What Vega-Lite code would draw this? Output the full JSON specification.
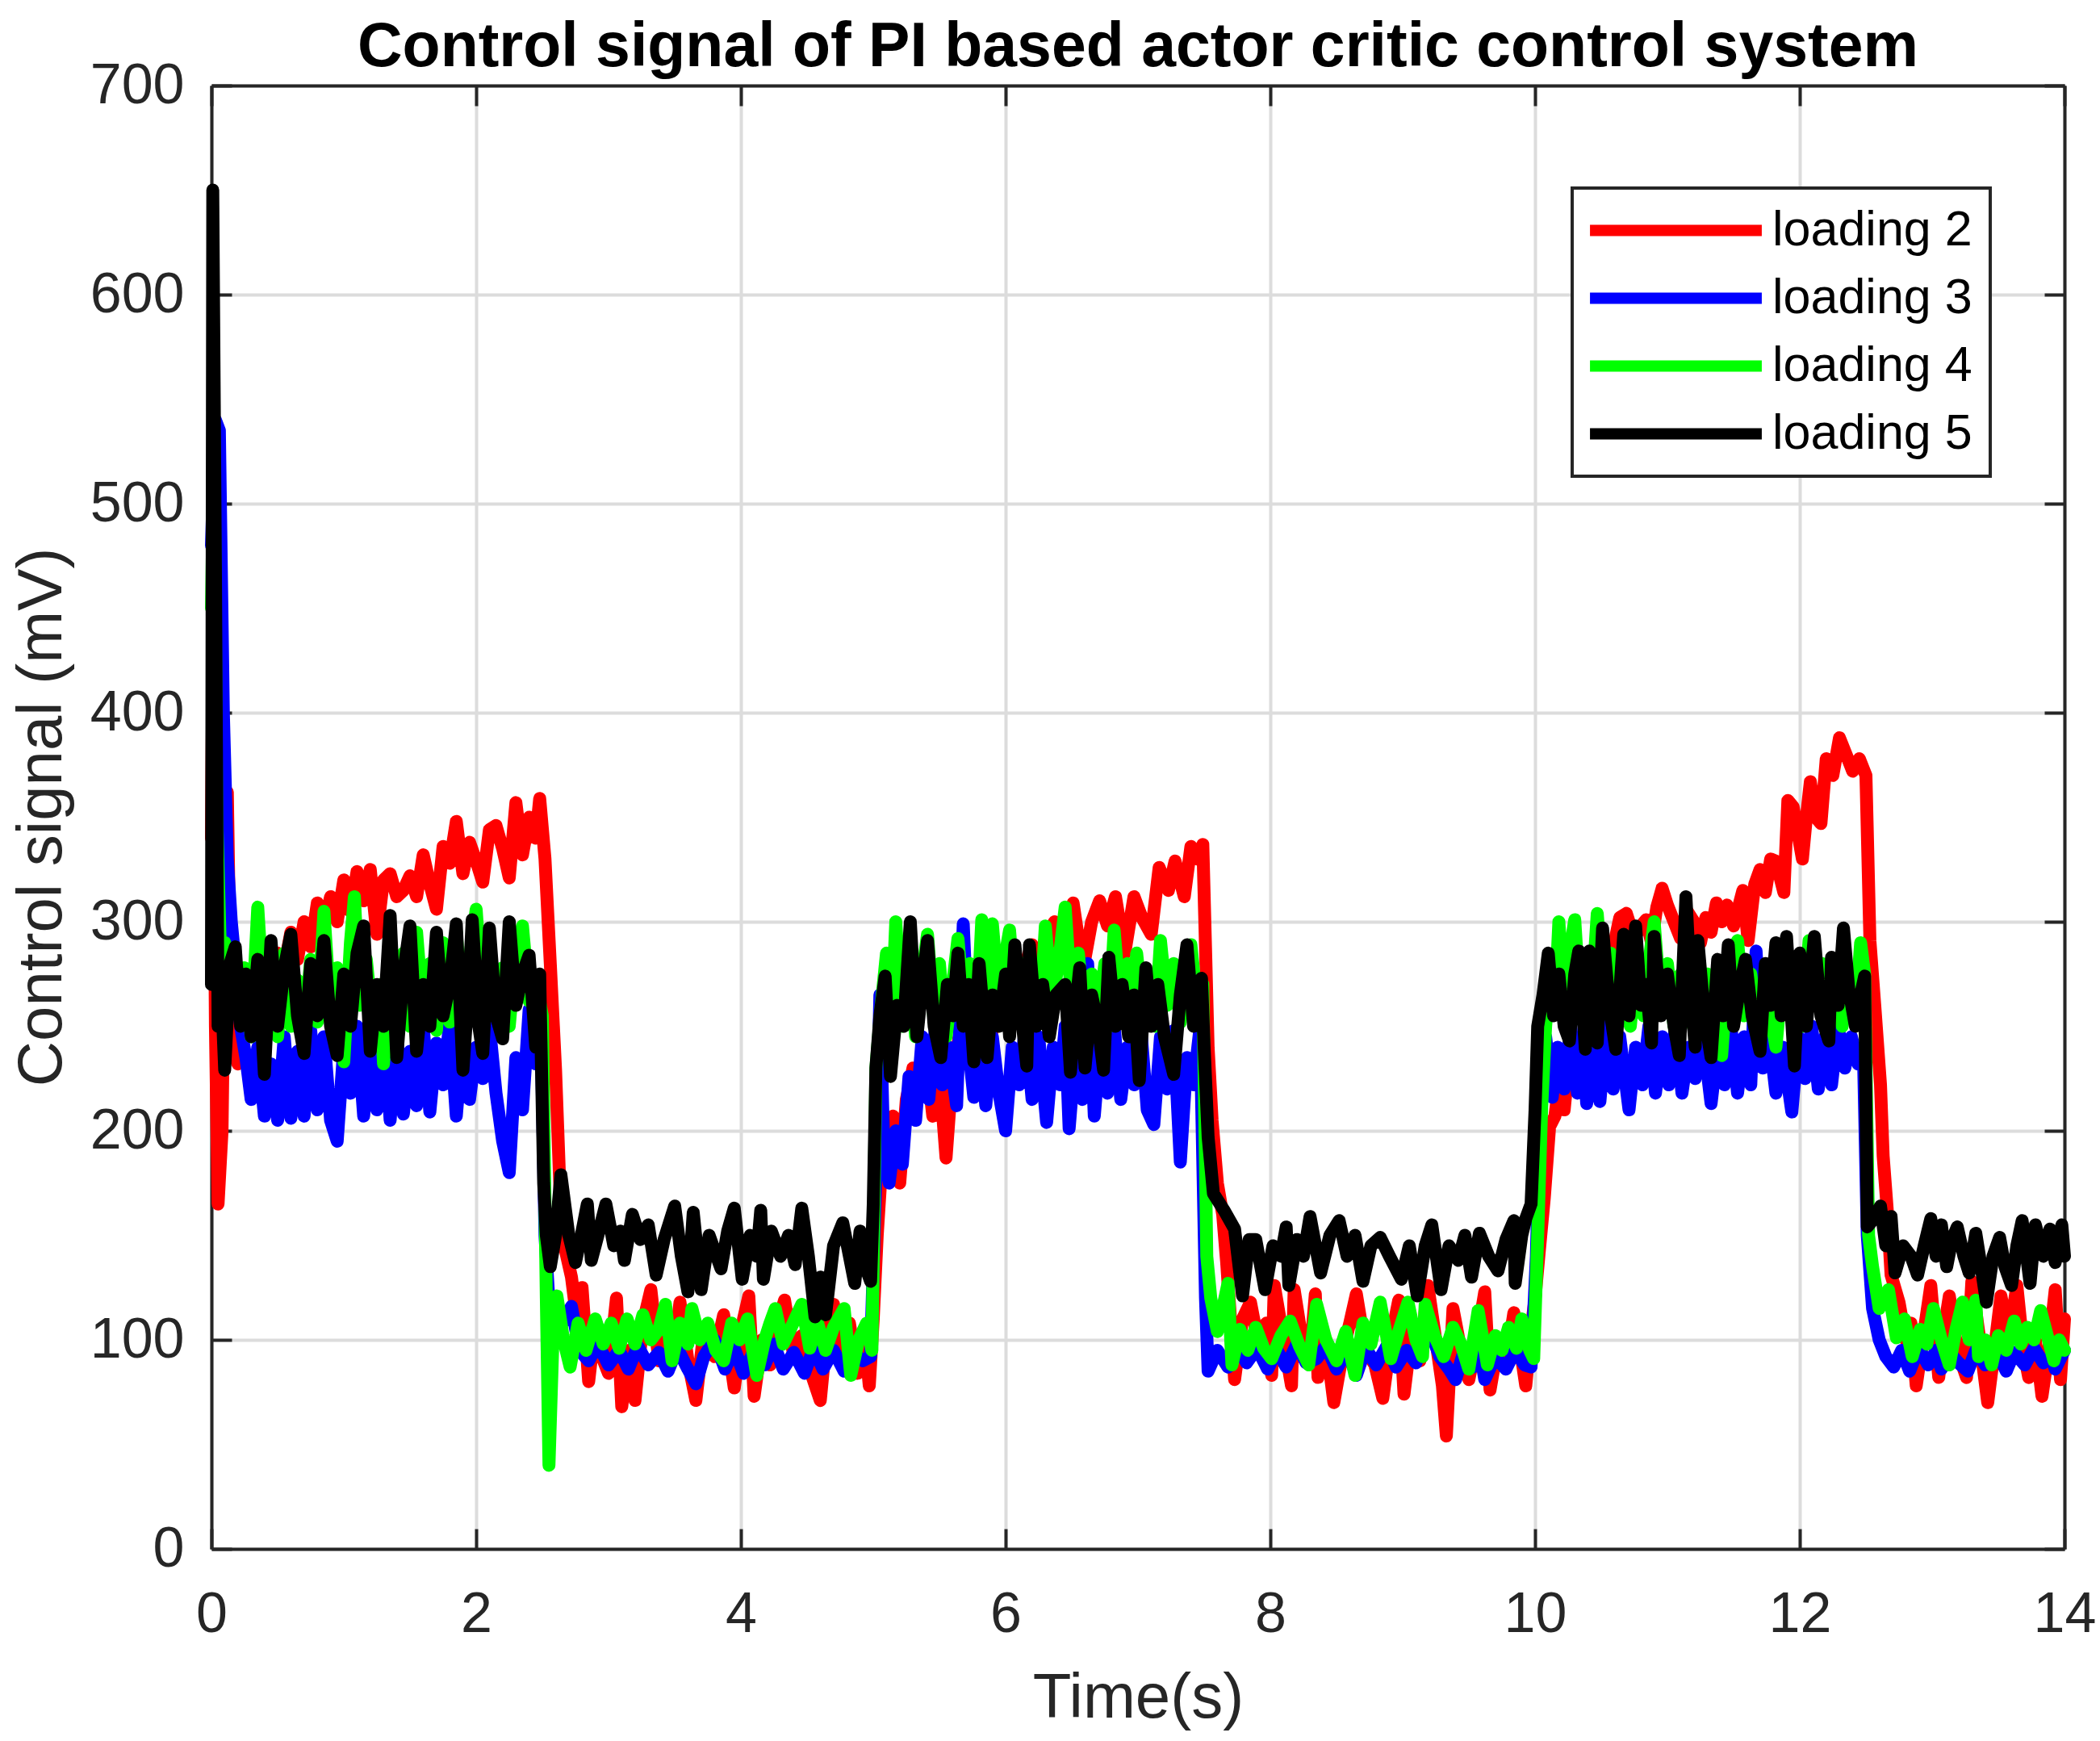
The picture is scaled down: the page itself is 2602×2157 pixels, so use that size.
{
  "$schema": "https://vega.github.io/schema/vega-lite/v6.json",
  "width": 2296,
  "height": 1813,
  "autosize": {"type": "none"},
  "padding": {"left": 262, "top": 106, "right": 44, "bottom": 238},
  "background": "white",
  "title": {
    "text": "Control signal of PI based actor critic control system",
    "font": "Liberation Sans",
    "fontSize": 77,
    "fontWeight": "bold",
    "color": "#000000",
    "anchor": "middle",
    "offset": -27
  },
  "data": {
    "values": [
      {"t":0,"s":2,"v":340},{"t":0.01,"s":2,"v":425},{"t":0.03,"s":2,"v":250},{"t":0.05,"s":2,"v":165},{"t":0.08,"s":2,"v":200},{"t":0.1,"s":2,"v":300},{"t":0.12,"s":2,"v":362},{"t":0.15,"s":2,"v":240},{"t":0.2,"s":2,"v":232},{"t":0.25,"s":2,"v":255},{"t":0.3,"s":2,"v":272},{"t":0.35,"s":2,"v":262},{"t":0.4,"s":2,"v":290},{"t":0.45,"s":2,"v":275},{"t":0.5,"s":2,"v":285},{"t":0.55,"s":2,"v":278},{"t":0.6,"s":2,"v":295},{"t":0.65,"s":2,"v":282},{"t":0.7,"s":2,"v":300},{"t":0.75,"s":2,"v":288},{"t":0.8,"s":2,"v":309},{"t":0.85,"s":2,"v":298},{"t":0.9,"s":2,"v":312},{"t":0.95,"s":2,"v":300},{"t":1.0,"s":2,"v":320},{"t":1.05,"s":2,"v":305},{"t":1.1,"s":2,"v":324},{"t":1.15,"s":2,"v":310},{"t":1.2,"s":2,"v":325},{"t":1.25,"s":2,"v":294},{"t":1.3,"s":2,"v":320},{"t":1.35,"s":2,"v":323},{"t":1.4,"s":2,"v":312},{"t":1.45,"s":2,"v":315},{"t":1.5,"s":2,"v":322},{"t":1.55,"s":2,"v":312},{"t":1.6,"s":2,"v":332},{"t":1.65,"s":2,"v":318},{"t":1.7,"s":2,"v":306},{"t":1.75,"s":2,"v":336},{"t":1.8,"s":2,"v":328},{"t":1.85,"s":2,"v":348},{"t":1.9,"s":2,"v":323},{"t":1.95,"s":2,"v":338},{"t":2.0,"s":2,"v":329},{"t":2.05,"s":2,"v":319},{"t":2.1,"s":2,"v":344},{"t":2.15,"s":2,"v":346},{"t":2.2,"s":2,"v":335},{"t":2.25,"s":2,"v":321},{"t":2.3,"s":2,"v":357},{"t":2.35,"s":2,"v":332},{"t":2.4,"s":2,"v":350},{"t":2.45,"s":2,"v":340},{"t":2.48,"s":2,"v":359},{"t":2.52,"s":2,"v":330},{"t":2.56,"s":2,"v":280},{"t":2.6,"s":2,"v":229},{"t":2.64,"s":2,"v":160},{"t":2.67,"s":2,"v":144},{"t":2.72,"s":2,"v":130},{"t":2.76,"s":2,"v":110},
      {"t":2.8,"s":2,"v":125},{"t":2.85,"s":2,"v":80},{"t":2.9,"s":2,"v":108},{"t":2.95,"s":2,"v":92},{"t":3.0,"s":2,"v":84},{"t":3.06,"s":2,"v":120},{"t":3.1,"s":2,"v":68},{"t":3.15,"s":2,"v":95},{"t":3.2,"s":2,"v":71},{"t":3.26,"s":2,"v":108},{"t":3.32,"s":2,"v":124},{"t":3.38,"s":2,"v":90},{"t":3.44,"s":2,"v":110},{"t":3.5,"s":2,"v":98},{"t":3.54,"s":2,"v":118},{"t":3.6,"s":2,"v":90},{"t":3.66,"s":2,"v":71},{"t":3.72,"s":2,"v":104},{"t":3.8,"s":2,"v":92},{"t":3.87,"s":2,"v":112},{"t":3.95,"s":2,"v":77},{"t":4.02,"s":2,"v":110},{"t":4.06,"s":2,"v":121},{"t":4.1,"s":2,"v":73},{"t":4.16,"s":2,"v":100},{"t":4.22,"s":2,"v":88},{"t":4.28,"s":2,"v":108},{"t":4.33,"s":2,"v":119},{"t":4.4,"s":2,"v":92},{"t":4.46,"s":2,"v":102},{"t":4.52,"s":2,"v":86},{"t":4.6,"s":2,"v":71},{"t":4.65,"s":2,"v":104},{"t":4.7,"s":2,"v":117},{"t":4.76,"s":2,"v":90},{"t":4.82,"s":2,"v":108},{"t":4.88,"s":2,"v":84},{"t":4.93,"s":2,"v":105},{"t":4.97,"s":2,"v":78},{"t":5.0,"s":2,"v":110},
      {"t":5.03,"s":2,"v":150},{"t":5.07,"s":2,"v":190},{"t":5.1,"s":2,"v":205},{"t":5.15,"s":2,"v":207},{"t":5.2,"s":2,"v":175},{"t":5.25,"s":2,"v":215},{"t":5.3,"s":2,"v":230},{"t":5.35,"s":2,"v":218},{"t":5.4,"s":2,"v":235},{"t":5.45,"s":2,"v":207},{"t":5.5,"s":2,"v":228},{"t":5.55,"s":2,"v":187},{"t":5.6,"s":2,"v":230},{"t":5.65,"s":2,"v":245},{"t":5.7,"s":2,"v":232},{"t":5.75,"s":2,"v":250},{"t":5.8,"s":2,"v":240},{"t":5.85,"s":2,"v":258},{"t":5.9,"s":2,"v":248},{"t":5.95,"s":2,"v":262},{"t":6.0,"s":2,"v":252},{"t":6.05,"s":2,"v":270},{"t":6.1,"s":2,"v":262},{"t":6.15,"s":2,"v":280},{"t":6.2,"s":2,"v":289},{"t":6.25,"s":2,"v":278},{"t":6.3,"s":2,"v":292},{"t":6.37,"s":2,"v":300},{"t":6.42,"s":2,"v":285},{"t":6.47,"s":2,"v":298},{"t":6.51,"s":2,"v":309},{"t":6.55,"s":2,"v":292},{"t":6.59,"s":2,"v":279},{"t":6.65,"s":2,"v":300},{"t":6.71,"s":2,"v":310},{"t":6.77,"s":2,"v":298},{"t":6.83,"s":2,"v":312},{"t":6.9,"s":2,"v":285},{"t":6.97,"s":2,"v":312},{"t":7.03,"s":2,"v":302},{"t":7.1,"s":2,"v":294},{"t":7.16,"s":2,"v":326},{"t":7.23,"s":2,"v":315},{"t":7.28,"s":2,"v":329},{"t":7.35,"s":2,"v":312},{"t":7.4,"s":2,"v":336},{"t":7.45,"s":2,"v":330},{"t":7.49,"s":2,"v":337},{"t":7.53,"s":2,"v":240},{"t":7.56,"s":2,"v":205},{"t":7.6,"s":2,"v":175},{"t":7.64,"s":2,"v":160},{"t":7.67,"s":2,"v":137},
      {"t":7.73,"s":2,"v":81},{"t":7.79,"s":2,"v":110},{"t":7.85,"s":2,"v":118},{"t":7.92,"s":2,"v":95},{"t":7.97,"s":2,"v":108},{"t":8.01,"s":2,"v":83},{"t":8.03,"s":2,"v":126},{"t":8.1,"s":2,"v":100},{"t":8.16,"s":2,"v":78},{"t":8.18,"s":2,"v":124},{"t":8.24,"s":2,"v":100},{"t":8.3,"s":2,"v":92},{"t":8.34,"s":2,"v":122},{"t":8.36,"s":2,"v":82},{"t":8.42,"s":2,"v":100},{"t":8.48,"s":2,"v":70},{"t":8.55,"s":2,"v":95},{"t":8.6,"s":2,"v":108},{"t":8.65,"s":2,"v":122},{"t":8.72,"s":2,"v":95},{"t":8.79,"s":2,"v":88},{"t":8.85,"s":2,"v":72},{"t":8.91,"s":2,"v":100},{"t":8.97,"s":2,"v":119},{"t":9.01,"s":2,"v":74},{"t":9.07,"s":2,"v":105},{"t":9.13,"s":2,"v":90},{"t":9.19,"s":2,"v":126},{"t":9.25,"s":2,"v":100},{"t":9.3,"s":2,"v":78},{"t":9.33,"s":2,"v":54},{"t":9.38,"s":2,"v":115},{"t":9.44,"s":2,"v":95},{"t":9.5,"s":2,"v":81},{"t":9.56,"s":2,"v":100},{"t":9.62,"s":2,"v":123},{"t":9.66,"s":2,"v":76},{"t":9.72,"s":2,"v":98},{"t":9.78,"s":2,"v":88},{"t":9.84,"s":2,"v":113},{"t":9.89,"s":2,"v":95},{"t":9.93,"s":2,"v":78},{"t":9.97,"s":2,"v":105},
      {"t":10.0,"s":2,"v":120},{"t":10.03,"s":2,"v":141},{"t":10.07,"s":2,"v":168},{"t":10.11,"s":2,"v":202},{"t":10.15,"s":2,"v":207},{"t":10.18,"s":2,"v":222},{"t":10.22,"s":2,"v":210},{"t":10.26,"s":2,"v":236},{"t":10.3,"s":2,"v":222},{"t":10.35,"s":2,"v":240},{"t":10.4,"s":2,"v":248},{"t":10.45,"s":2,"v":262},{"t":10.5,"s":2,"v":270},{"t":10.55,"s":2,"v":282},{"t":10.6,"s":2,"v":290},{"t":10.64,"s":2,"v":302},{"t":10.69,"s":2,"v":304},{"t":10.75,"s":2,"v":292},{"t":10.8,"s":2,"v":298},{"t":10.84,"s":2,"v":301},{"t":10.88,"s":2,"v":290},{"t":10.92,"s":2,"v":307},{"t":10.96,"s":2,"v":316},{"t":11.0,"s":2,"v":308},{"t":11.05,"s":2,"v":300},{"t":11.1,"s":2,"v":292},{"t":11.15,"s":2,"v":305},{"t":11.2,"s":2,"v":300},{"t":11.25,"s":2,"v":290},{"t":11.29,"s":2,"v":302},{"t":11.33,"s":2,"v":295},{"t":11.37,"s":2,"v":309},{"t":11.41,"s":2,"v":300},{"t":11.45,"s":2,"v":308},{"t":11.5,"s":2,"v":298},{"t":11.57,"s":2,"v":315},{"t":11.61,"s":2,"v":291},{"t":11.66,"s":2,"v":318},{"t":11.7,"s":2,"v":325},{"t":11.74,"s":2,"v":314},{"t":11.78,"s":2,"v":330},{"t":11.82,"s":2,"v":329},{"t":11.88,"s":2,"v":314},{"t":11.91,"s":2,"v":358},{"t":11.95,"s":2,"v":355},{"t":12.02,"s":2,"v":330},{"t":12.05,"s":2,"v":350},{"t":12.08,"s":2,"v":367},{"t":12.12,"s":2,"v":350},{"t":12.16,"s":2,"v":347},{"t":12.2,"s":2,"v":378},{"t":12.25,"s":2,"v":370},{"t":12.3,"s":2,"v":388},{"t":12.35,"s":2,"v":380},{"t":12.4,"s":2,"v":372},{"t":12.45,"s":2,"v":378},{"t":12.5,"s":2,"v":370},{"t":12.53,"s":2,"v":291},{"t":12.57,"s":2,"v":257},{"t":12.61,"s":2,"v":222},{"t":12.63,"s":2,"v":188},{"t":12.66,"s":2,"v":163},{"t":12.69,"s":2,"v":131},
      {"t":12.75,"s":2,"v":118},{"t":12.8,"s":2,"v":100},{"t":12.84,"s":2,"v":108},{"t":12.88,"s":2,"v":78},{"t":12.93,"s":2,"v":100},{"t":12.99,"s":2,"v":126},{"t":13.05,"s":2,"v":82},{"t":13.09,"s":2,"v":105},{"t":13.13,"s":2,"v":121},{"t":13.19,"s":2,"v":95},{"t":13.26,"s":2,"v":82},{"t":13.3,"s":2,"v":128},{"t":13.36,"s":2,"v":100},{"t":13.42,"s":2,"v":70},{"t":13.47,"s":2,"v":95},{"t":13.52,"s":2,"v":121},{"t":13.58,"s":2,"v":100},{"t":13.64,"s":2,"v":126},{"t":13.69,"s":2,"v":95},{"t":13.73,"s":2,"v":82},{"t":13.78,"s":2,"v":100},{"t":13.83,"s":2,"v":73},{"t":13.88,"s":2,"v":95},{"t":13.93,"s":2,"v":124},{"t":13.97,"s":2,"v":81},{"t":14.0,"s":2,"v":110},

      {"t":0,"s":3,"v":480},{"t":0.03,"s":3,"v":540},{"t":0.06,"s":3,"v":535},{"t":0.09,"s":3,"v":400},{"t":0.12,"s":3,"v":330},{"t":0.15,"s":3,"v":300},{"t":0.18,"s":3,"v":280},{"t":0.22,"s":3,"v":250},{"t":0.26,"s":3,"v":235},{"t":0.3,"s":3,"v":215},{"t":0.35,"s":3,"v":240},{"t":0.4,"s":3,"v":207},{"t":0.45,"s":3,"v":232},{"t":0.5,"s":3,"v":205},{"t":0.55,"s":3,"v":245},{"t":0.6,"s":3,"v":206},{"t":0.65,"s":3,"v":238},{"t":0.7,"s":3,"v":207},{"t":0.75,"s":3,"v":248},{"t":0.8,"s":3,"v":210},{"t":0.85,"s":3,"v":245},{"t":0.9,"s":3,"v":205},{"t":0.95,"s":3,"v":195},{"t":1.0,"s":3,"v":240},{"t":1.05,"s":3,"v":218},{"t":1.1,"s":3,"v":250},{"t":1.15,"s":3,"v":207},{"t":1.2,"s":3,"v":242},{"t":1.25,"s":3,"v":210},{"t":1.3,"s":3,"v":250},{"t":1.35,"s":3,"v":205},{"t":1.4,"s":3,"v":245},{"t":1.45,"s":3,"v":208},{"t":1.5,"s":3,"v":238},{"t":1.55,"s":3,"v":212},{"t":1.6,"s":3,"v":250},{"t":1.65,"s":3,"v":209},{"t":1.7,"s":3,"v":242},{"t":1.75,"s":3,"v":222},{"t":1.8,"s":3,"v":252},{"t":1.85,"s":3,"v":207},{"t":1.9,"s":3,"v":245},{"t":1.95,"s":3,"v":215},{"t":2.0,"s":3,"v":240},{"t":2.05,"s":3,"v":225},{"t":2.1,"s":3,"v":250},{"t":2.15,"s":3,"v":218},{"t":2.2,"s":3,"v":195},{"t":2.25,"s":3,"v":180},{"t":2.3,"s":3,"v":235},{"t":2.35,"s":3,"v":210},{"t":2.4,"s":3,"v":258},{"t":2.45,"s":3,"v":232},{"t":2.49,"s":3,"v":250},{"t":2.52,"s":3,"v":150},{"t":2.55,"s":3,"v":118},{"t":2.58,"s":3,"v":100},{"t":2.65,"s":3,"v":108},{"t":2.72,"s":3,"v":116},{"t":2.78,"s":3,"v":95},{"t":2.85,"s":3,"v":90},
      {"t":2.92,"s":3,"v":98},{"t":3.0,"s":3,"v":88},{"t":3.08,"s":3,"v":95},{"t":3.15,"s":3,"v":86},{"t":3.22,"s":3,"v":97},{"t":3.3,"s":3,"v":88},{"t":3.38,"s":3,"v":94},{"t":3.45,"s":3,"v":85},{"t":3.52,"s":3,"v":96},{"t":3.6,"s":3,"v":86},{"t":3.66,"s":3,"v":79},{"t":3.72,"s":3,"v":92},{"t":3.8,"s":3,"v":100},{"t":3.88,"s":3,"v":86},{"t":3.95,"s":3,"v":96},{"t":4.02,"s":3,"v":84},{"t":4.1,"s":3,"v":95},{"t":4.18,"s":3,"v":88},{"t":4.25,"s":3,"v":98},{"t":4.32,"s":3,"v":86},{"t":4.4,"s":3,"v":94},{"t":4.48,"s":3,"v":84},{"t":4.55,"s":3,"v":96},{"t":4.62,"s":3,"v":86},{"t":4.7,"s":3,"v":95},{"t":4.78,"s":3,"v":85},{"t":4.85,"s":3,"v":94},{"t":4.92,"s":3,"v":90},{"t":4.98,"s":3,"v":92},
      {"t":5.02,"s":3,"v":180},{"t":5.05,"s":3,"v":265},{"t":5.08,"s":3,"v":190},{"t":5.12,"s":3,"v":175},{"t":5.17,"s":3,"v":200},{"t":5.22,"s":3,"v":184},{"t":5.27,"s":3,"v":226},{"t":5.32,"s":3,"v":205},{"t":5.37,"s":3,"v":245},{"t":5.42,"s":3,"v":215},{"t":5.47,"s":3,"v":250},{"t":5.52,"s":3,"v":222},{"t":5.57,"s":3,"v":240},{"t":5.63,"s":3,"v":212},{"t":5.68,"s":3,"v":299},{"t":5.72,"s":3,"v":240},{"t":5.76,"s":3,"v":216},{"t":5.8,"s":3,"v":250},{"t":5.85,"s":3,"v":212},{"t":5.9,"s":3,"v":245},{"t":5.95,"s":3,"v":218},{"t":6.0,"s":3,"v":200},{"t":6.05,"s":3,"v":240},{"t":6.1,"s":3,"v":222},{"t":6.15,"s":3,"v":250},{"t":6.2,"s":3,"v":215},{"t":6.25,"s":3,"v":245},{"t":6.31,"s":3,"v":204},{"t":6.36,"s":3,"v":240},{"t":6.41,"s":3,"v":222},{"t":6.45,"s":3,"v":250},{"t":6.48,"s":3,"v":201},{"t":6.53,"s":3,"v":240},{"t":6.58,"s":3,"v":215},{"t":6.62,"s":3,"v":280},{"t":6.67,"s":3,"v":207},{"t":6.72,"s":3,"v":245},{"t":6.77,"s":3,"v":218},{"t":6.82,"s":3,"v":250},{"t":6.87,"s":3,"v":215},{"t":6.92,"s":3,"v":240},{"t":6.97,"s":3,"v":222},{"t":7.02,"s":3,"v":250},{"t":7.07,"s":3,"v":210},{"t":7.12,"s":3,"v":203},{"t":7.17,"s":3,"v":245},{"t":7.22,"s":3,"v":220},{"t":7.27,"s":3,"v":248},{"t":7.32,"s":3,"v":185},{"t":7.37,"s":3,"v":235},{"t":7.42,"s":3,"v":222},{"t":7.47,"s":3,"v":250},{"t":7.51,"s":3,"v":120},{"t":7.53,"s":3,"v":85},
      {"t":7.6,"s":3,"v":95},{"t":7.68,"s":3,"v":87},{"t":7.75,"s":3,"v":98},{"t":7.82,"s":3,"v":89},{"t":7.9,"s":3,"v":96},{"t":7.98,"s":3,"v":86},{"t":8.05,"s":3,"v":95},{"t":8.12,"s":3,"v":87},{"t":8.2,"s":3,"v":98},{"t":8.27,"s":3,"v":89},{"t":8.35,"s":3,"v":91},{"t":8.42,"s":3,"v":97},{"t":8.5,"s":3,"v":86},{"t":8.58,"s":3,"v":95},{"t":8.65,"s":3,"v":83},{"t":8.72,"s":3,"v":96},{"t":8.8,"s":3,"v":88},{"t":8.88,"s":3,"v":97},{"t":8.95,"s":3,"v":87},{"t":9.03,"s":3,"v":95},{"t":9.1,"s":3,"v":89},{"t":9.15,"s":3,"v":97},{"t":9.21,"s":3,"v":104},{"t":9.28,"s":3,"v":92},{"t":9.35,"s":3,"v":86},{"t":9.4,"s":3,"v":81},{"t":9.46,"s":3,"v":94},{"t":9.53,"s":3,"v":87},{"t":9.58,"s":3,"v":96},{"t":9.62,"s":3,"v":81},{"t":9.7,"s":3,"v":92},{"t":9.78,"s":3,"v":86},{"t":9.85,"s":3,"v":95},{"t":9.92,"s":3,"v":88},{"t":9.97,"s":3,"v":87},
      {"t":10.01,"s":3,"v":140},{"t":10.04,"s":3,"v":216},{"t":10.08,"s":3,"v":245},{"t":10.13,"s":3,"v":216},{"t":10.17,"s":3,"v":240},{"t":10.22,"s":3,"v":220},{"t":10.27,"s":3,"v":250},{"t":10.32,"s":3,"v":218},{"t":10.36,"s":3,"v":245},{"t":10.39,"s":3,"v":213},{"t":10.44,"s":3,"v":240},{"t":10.49,"s":3,"v":214},{"t":10.54,"s":3,"v":250},{"t":10.59,"s":3,"v":220},{"t":10.64,"s":3,"v":245},{"t":10.71,"s":3,"v":210},{"t":10.76,"s":3,"v":240},{"t":10.81,"s":3,"v":222},{"t":10.86,"s":3,"v":250},{"t":10.91,"s":3,"v":218},{"t":10.96,"s":3,"v":245},{"t":11.01,"s":3,"v":222},{"t":11.06,"s":3,"v":250},{"t":11.11,"s":3,"v":218},{"t":11.16,"s":3,"v":240},{"t":11.21,"s":3,"v":225},{"t":11.26,"s":3,"v":250},{"t":11.33,"s":3,"v":213},{"t":11.38,"s":3,"v":240},{"t":11.43,"s":3,"v":222},{"t":11.48,"s":3,"v":250},{"t":11.53,"s":3,"v":218},{"t":11.58,"s":3,"v":245},{"t":11.63,"s":3,"v":222},{"t":11.67,"s":3,"v":286},{"t":11.72,"s":3,"v":230},{"t":11.77,"s":3,"v":245},{"t":11.82,"s":3,"v":218},{"t":11.87,"s":3,"v":240},{"t":11.94,"s":3,"v":209},{"t":11.99,"s":3,"v":245},{"t":12.04,"s":3,"v":225},{"t":12.09,"s":3,"v":250},{"t":12.14,"s":3,"v":220},{"t":12.19,"s":3,"v":245},{"t":12.24,"s":3,"v":222},{"t":12.29,"s":3,"v":250},{"t":12.34,"s":3,"v":230},{"t":12.39,"s":3,"v":245},{"t":12.44,"s":3,"v":232},{"t":12.48,"s":3,"v":240},{"t":12.51,"s":3,"v":150},{"t":12.55,"s":3,"v":115},{"t":12.6,"s":3,"v":100},
      {"t":12.65,"s":3,"v":92},{"t":12.71,"s":3,"v":87},{"t":12.77,"s":3,"v":95},{"t":12.83,"s":3,"v":85},{"t":12.9,"s":3,"v":96},{"t":12.97,"s":3,"v":88},{"t":13.03,"s":3,"v":95},{"t":13.07,"s":3,"v":86},{"t":13.13,"s":3,"v":94},{"t":13.2,"s":3,"v":89},{"t":13.27,"s":3,"v":85},{"t":13.33,"s":3,"v":95},{"t":13.4,"s":3,"v":88},{"t":13.47,"s":3,"v":96},{"t":13.53,"s":3,"v":89},{"t":13.56,"s":3,"v":85},{"t":13.62,"s":3,"v":94},{"t":13.7,"s":3,"v":88},{"t":13.77,"s":3,"v":96},{"t":13.84,"s":3,"v":89},{"t":13.9,"s":3,"v":92},{"t":13.93,"s":3,"v":86},{"t":14.0,"s":3,"v":95},

      {"t":0,"s":4,"v":450},{"t":0.02,"s":4,"v":530},{"t":0.04,"s":4,"v":350},{"t":0.07,"s":4,"v":280},{"t":0.1,"s":4,"v":290},{"t":0.13,"s":4,"v":272},{"t":0.17,"s":4,"v":285},{"t":0.2,"s":4,"v":262},{"t":0.25,"s":4,"v":278},{"t":0.3,"s":4,"v":245},{"t":0.35,"s":4,"v":307},{"t":0.4,"s":4,"v":255},{"t":0.45,"s":4,"v":280},{"t":0.5,"s":4,"v":245},{"t":0.55,"s":4,"v":285},{"t":0.6,"s":4,"v":250},{"t":0.65,"s":4,"v":272},{"t":0.7,"s":4,"v":248},{"t":0.75,"s":4,"v":282},{"t":0.8,"s":4,"v":252},{"t":0.85,"s":4,"v":305},{"t":0.9,"s":4,"v":255},{"t":0.95,"s":4,"v":278},{"t":1.0,"s":4,"v":233},{"t":1.05,"s":4,"v":290},{"t":1.08,"s":4,"v":312},{"t":1.12,"s":4,"v":260},{"t":1.17,"s":4,"v":282},{"t":1.22,"s":4,"v":250},{"t":1.27,"s":4,"v":270},{"t":1.3,"s":4,"v":232},{"t":1.35,"s":4,"v":278},{"t":1.4,"s":4,"v":255},{"t":1.45,"s":4,"v":285},{"t":1.5,"s":4,"v":250},{"t":1.55,"s":4,"v":295},{"t":1.6,"s":4,"v":255},{"t":1.65,"s":4,"v":280},{"t":1.7,"s":4,"v":248},{"t":1.75,"s":4,"v":290},{"t":1.8,"s":4,"v":252},{"t":1.85,"s":4,"v":295},{"t":1.9,"s":4,"v":250},{"t":1.95,"s":4,"v":282},{"t":2.0,"s":4,"v":306},{"t":2.05,"s":4,"v":260},{"t":2.1,"s":4,"v":285},{"t":2.15,"s":4,"v":255},{"t":2.2,"s":4,"v":278},{"t":2.25,"s":4,"v":250},{"t":2.3,"s":4,"v":285},{"t":2.35,"s":4,"v":298},{"t":2.4,"s":4,"v":262},{"t":2.45,"s":4,"v":272},{"t":2.5,"s":4,"v":255},{"t":2.53,"s":4,"v":120},{"t":2.55,"s":4,"v":40},{"t":2.58,"s":4,"v":100},{"t":2.61,"s":4,"v":121},{"t":2.66,"s":4,"v":100},{"t":2.71,"s":4,"v":87},
      {"t":2.77,"s":4,"v":108},{"t":2.83,"s":4,"v":95},{"t":2.9,"s":4,"v":110},{"t":2.96,"s":4,"v":98},{"t":3.02,"s":4,"v":108},{"t":3.08,"s":4,"v":96},{"t":3.14,"s":4,"v":110},{"t":3.2,"s":4,"v":98},{"t":3.26,"s":4,"v":112},{"t":3.32,"s":4,"v":100},{"t":3.38,"s":4,"v":105},{"t":3.43,"s":4,"v":117},{"t":3.48,"s":4,"v":90},{"t":3.54,"s":4,"v":108},{"t":3.6,"s":4,"v":98},{"t":3.63,"s":4,"v":115},{"t":3.69,"s":4,"v":100},{"t":3.75,"s":4,"v":108},{"t":3.81,"s":4,"v":95},{"t":3.87,"s":4,"v":90},{"t":3.93,"s":4,"v":108},{"t":3.99,"s":4,"v":100},{"t":4.05,"s":4,"v":110},{"t":4.12,"s":4,"v":83},{"t":4.18,"s":4,"v":100},{"t":4.22,"s":4,"v":108},{"t":4.26,"s":4,"v":115},{"t":4.32,"s":4,"v":98},{"t":4.38,"s":4,"v":106},{"t":4.46,"s":4,"v":117},{"t":4.52,"s":4,"v":96},{"t":4.58,"s":4,"v":108},{"t":4.64,"s":4,"v":95},{"t":4.7,"s":4,"v":106},{"t":4.78,"s":4,"v":115},{"t":4.83,"s":4,"v":83},{"t":4.89,"s":4,"v":100},{"t":4.95,"s":4,"v":108},{"t":4.99,"s":4,"v":95},
      {"t":5.02,"s":4,"v":230},{"t":5.06,"s":4,"v":260},{"t":5.1,"s":4,"v":285},{"t":5.14,"s":4,"v":255},{"t":5.17,"s":4,"v":300},{"t":5.22,"s":4,"v":250},{"t":5.27,"s":4,"v":285},{"t":5.32,"s":4,"v":245},{"t":5.37,"s":4,"v":275},{"t":5.41,"s":4,"v":294},{"t":5.46,"s":4,"v":252},{"t":5.5,"s":4,"v":280},{"t":5.55,"s":4,"v":245},{"t":5.6,"s":4,"v":270},{"t":5.64,"s":4,"v":292},{"t":5.69,"s":4,"v":255},{"t":5.73,"s":4,"v":280},{"t":5.78,"s":4,"v":248},{"t":5.82,"s":4,"v":301},{"t":5.86,"s":4,"v":260},{"t":5.9,"s":4,"v":299},{"t":5.95,"s":4,"v":262},{"t":6.0,"s":4,"v":285},{"t":6.03,"s":4,"v":296},{"t":6.08,"s":4,"v":255},{"t":6.13,"s":4,"v":280},{"t":6.18,"s":4,"v":250},{"t":6.22,"s":4,"v":275},{"t":6.26,"s":4,"v":255},{"t":6.3,"s":4,"v":298},{"t":6.35,"s":4,"v":262},{"t":6.4,"s":4,"v":280},{"t":6.45,"s":4,"v":307},{"t":6.5,"s":4,"v":260},{"t":6.55,"s":4,"v":285},{"t":6.6,"s":4,"v":250},{"t":6.65,"s":4,"v":275},{"t":6.7,"s":4,"v":255},{"t":6.75,"s":4,"v":280},{"t":6.78,"s":4,"v":250},{"t":6.82,"s":4,"v":296},{"t":6.87,"s":4,"v":258},{"t":6.92,"s":4,"v":280},{"t":6.96,"s":4,"v":248},{"t":6.99,"s":4,"v":285},{"t":7.04,"s":4,"v":255},{"t":7.09,"s":4,"v":275},{"t":7.13,"s":4,"v":250},{"t":7.17,"s":4,"v":291},{"t":7.22,"s":4,"v":260},{"t":7.27,"s":4,"v":280},{"t":7.32,"s":4,"v":252},{"t":7.36,"s":4,"v":275},{"t":7.4,"s":4,"v":289},{"t":7.45,"s":4,"v":258},{"t":7.49,"s":4,"v":270},{"t":7.52,"s":4,"v":140},{"t":7.55,"s":4,"v":120},{"t":7.6,"s":4,"v":104},{"t":7.64,"s":4,"v":115},{"t":7.68,"s":4,"v":127},{"t":7.71,"s":4,"v":88},
      {"t":7.77,"s":4,"v":105},{"t":7.83,"s":4,"v":95},{"t":7.89,"s":4,"v":106},{"t":7.95,"s":4,"v":96},{"t":8.01,"s":4,"v":91},{"t":8.08,"s":4,"v":102},{"t":8.15,"s":4,"v":109},{"t":8.22,"s":4,"v":97},{"t":8.29,"s":4,"v":88},{"t":8.35,"s":4,"v":117},{"t":8.42,"s":4,"v":100},{"t":8.5,"s":4,"v":90},{"t":8.57,"s":4,"v":104},{"t":8.64,"s":4,"v":83},{"t":8.7,"s":4,"v":108},{"t":8.76,"s":4,"v":98},{"t":8.83,"s":4,"v":118},{"t":8.91,"s":4,"v":91},{"t":8.97,"s":4,"v":104},{"t":9.04,"s":4,"v":118},{"t":9.1,"s":4,"v":100},{"t":9.15,"s":4,"v":92},{"t":9.17,"s":4,"v":117},{"t":9.24,"s":4,"v":102},{"t":9.31,"s":4,"v":92},{"t":9.38,"s":4,"v":106},{"t":9.44,"s":4,"v":98},{"t":9.5,"s":4,"v":86},{"t":9.57,"s":4,"v":114},{"t":9.64,"s":4,"v":88},{"t":9.7,"s":4,"v":102},{"t":9.75,"s":4,"v":95},{"t":9.8,"s":4,"v":106},{"t":9.86,"s":4,"v":96},{"t":9.9,"s":4,"v":110},{"t":9.96,"s":4,"v":95},{"t":9.99,"s":4,"v":91},
      {"t":10.02,"s":4,"v":150},{"t":10.05,"s":4,"v":211},{"t":10.08,"s":4,"v":250},{"t":10.12,"s":4,"v":280},{"t":10.15,"s":4,"v":260},{"t":10.18,"s":4,"v":300},{"t":10.22,"s":4,"v":262},{"t":10.26,"s":4,"v":285},{"t":10.3,"s":4,"v":301},{"t":10.34,"s":4,"v":260},{"t":10.38,"s":4,"v":280},{"t":10.42,"s":4,"v":255},{"t":10.47,"s":4,"v":304},{"t":10.52,"s":4,"v":262},{"t":10.57,"s":4,"v":285},{"t":10.62,"s":4,"v":255},{"t":10.67,"s":4,"v":275},{"t":10.72,"s":4,"v":250},{"t":10.77,"s":4,"v":285},{"t":10.82,"s":4,"v":255},{"t":10.86,"s":4,"v":280},{"t":10.9,"s":4,"v":300},{"t":10.95,"s":4,"v":258},{"t":11.0,"s":4,"v":280},{"t":11.05,"s":4,"v":250},{"t":11.1,"s":4,"v":275},{"t":11.15,"s":4,"v":252},{"t":11.2,"s":4,"v":285},{"t":11.25,"s":4,"v":255},{"t":11.3,"s":4,"v":275},{"t":11.35,"s":4,"v":248},{"t":11.41,"s":4,"v":236},{"t":11.46,"s":4,"v":280},{"t":11.53,"s":4,"v":291},{"t":11.58,"s":4,"v":255},{"t":11.63,"s":4,"v":275},{"t":11.68,"s":4,"v":250},{"t":11.73,"s":4,"v":270},{"t":11.78,"s":4,"v":255},{"t":11.82,"s":4,"v":240},{"t":11.87,"s":4,"v":275},{"t":11.92,"s":4,"v":255},{"t":11.97,"s":4,"v":280},{"t":12.02,"s":4,"v":250},{"t":12.07,"s":4,"v":291},{"t":12.12,"s":4,"v":260},{"t":12.17,"s":4,"v":280},{"t":12.22,"s":4,"v":255},{"t":12.27,"s":4,"v":275},{"t":12.32,"s":4,"v":250},{"t":12.37,"s":4,"v":270},{"t":12.42,"s":4,"v":255},{"t":12.46,"s":4,"v":290},{"t":12.49,"s":4,"v":275},{"t":12.52,"s":4,"v":150},{"t":12.55,"s":4,"v":135},{"t":12.6,"s":4,"v":115},{"t":12.67,"s":4,"v":124},{"t":12.73,"s":4,"v":101},
      {"t":12.79,"s":4,"v":110},{"t":12.85,"s":4,"v":92},{"t":12.91,"s":4,"v":105},{"t":12.96,"s":4,"v":98},{"t":13.01,"s":4,"v":115},{"t":13.07,"s":4,"v":100},{"t":13.13,"s":4,"v":88},{"t":13.18,"s":4,"v":105},{"t":13.23,"s":4,"v":118},{"t":13.28,"s":4,"v":100},{"t":13.33,"s":4,"v":119},{"t":13.35,"s":4,"v":92},{"t":13.4,"s":4,"v":100},{"t":13.45,"s":4,"v":88},{"t":13.5,"s":4,"v":102},{"t":13.56,"s":4,"v":95},{"t":13.62,"s":4,"v":109},{"t":13.67,"s":4,"v":98},{"t":13.72,"s":4,"v":106},{"t":13.77,"s":4,"v":100},{"t":13.82,"s":4,"v":114},{"t":13.87,"s":4,"v":102},{"t":13.92,"s":4,"v":90},{"t":13.96,"s":4,"v":100},{"t":14.0,"s":4,"v":95},

      {"t":0,"s":5,"v":270},{"t":0.01,"s":5,"v":650},{"t":0.03,"s":5,"v":470},{"t":0.05,"s":5,"v":250},{"t":0.08,"s":5,"v":260},{"t":0.1,"s":5,"v":229},{"t":0.14,"s":5,"v":280},{"t":0.18,"s":5,"v":288},{"t":0.22,"s":5,"v":250},{"t":0.26,"s":5,"v":275},{"t":0.3,"s":5,"v":245},{"t":0.35,"s":5,"v":282},{"t":0.4,"s":5,"v":227},{"t":0.45,"s":5,"v":291},{"t":0.5,"s":5,"v":250},{"t":0.55,"s":5,"v":278},{"t":0.6,"s":5,"v":294},{"t":0.65,"s":5,"v":255},{"t":0.7,"s":5,"v":237},{"t":0.75,"s":5,"v":280},{"t":0.8,"s":5,"v":255},{"t":0.85,"s":5,"v":291},{"t":0.9,"s":5,"v":250},{"t":0.95,"s":5,"v":236},{"t":1.0,"s":5,"v":275},{"t":1.05,"s":5,"v":250},{"t":1.1,"s":5,"v":285},{"t":1.15,"s":5,"v":298},{"t":1.2,"s":5,"v":238},{"t":1.25,"s":5,"v":270},{"t":1.3,"s":5,"v":250},{"t":1.35,"s":5,"v":303},{"t":1.4,"s":5,"v":235},{"t":1.45,"s":5,"v":275},{"t":1.5,"s":5,"v":298},{"t":1.55,"s":5,"v":238},{"t":1.6,"s":5,"v":270},{"t":1.65,"s":5,"v":250},{"t":1.7,"s":5,"v":295},{"t":1.75,"s":5,"v":255},{"t":1.8,"s":5,"v":270},{"t":1.85,"s":5,"v":299},{"t":1.9,"s":5,"v":229},{"t":1.95,"s":5,"v":275},{"t":1.97,"s":5,"v":301},{"t":2.02,"s":5,"v":250},{"t":2.05,"s":5,"v":237},{"t":2.1,"s":5,"v":297},{"t":2.15,"s":5,"v":255},{"t":2.2,"s":5,"v":244},{"t":2.25,"s":5,"v":300},{"t":2.3,"s":5,"v":260},{"t":2.35,"s":5,"v":275},{"t":2.4,"s":5,"v":284},{"t":2.45,"s":5,"v":240},{"t":2.48,"s":5,"v":275},{"t":2.51,"s":5,"v":175},{"t":2.53,"s":5,"v":150},{"t":2.56,"s":5,"v":135},{"t":2.6,"s":5,"v":150},{"t":2.64,"s":5,"v":179},{"t":2.7,"s":5,"v":150},
      {"t":2.75,"s":5,"v":137},{"t":2.8,"s":5,"v":152},{"t":2.84,"s":5,"v":165},{"t":2.87,"s":5,"v":138},{"t":2.92,"s":5,"v":150},{"t":2.98,"s":5,"v":165},{"t":3.04,"s":5,"v":145},{"t":3.09,"s":5,"v":152},{"t":3.12,"s":5,"v":138},{"t":3.18,"s":5,"v":160},{"t":3.24,"s":5,"v":148},{"t":3.3,"s":5,"v":155},{"t":3.36,"s":5,"v":131},{"t":3.42,"s":5,"v":148},{"t":3.5,"s":5,"v":164},{"t":3.55,"s":5,"v":140},{"t":3.6,"s":5,"v":123},{"t":3.64,"s":5,"v":161},{"t":3.7,"s":5,"v":124},{"t":3.76,"s":5,"v":150},{"t":3.85,"s":5,"v":134},{"t":3.9,"s":5,"v":152},{"t":3.95,"s":5,"v":163},{"t":4.01,"s":5,"v":129},{"t":4.07,"s":5,"v":150},{"t":4.12,"s":5,"v":140},{"t":4.15,"s":5,"v":162},{"t":4.17,"s":5,"v":129},{"t":4.23,"s":5,"v":152},{"t":4.3,"s":5,"v":140},{"t":4.36,"s":5,"v":150},{"t":4.41,"s":5,"v":136},{"t":4.46,"s":5,"v":163},{"t":4.51,"s":5,"v":140},{"t":4.56,"s":5,"v":111},{"t":4.6,"s":5,"v":130},{"t":4.64,"s":5,"v":112},{"t":4.7,"s":5,"v":145},{"t":4.77,"s":5,"v":156},{"t":4.82,"s":5,"v":140},{"t":4.86,"s":5,"v":127},{"t":4.9,"s":5,"v":152},{"t":4.94,"s":5,"v":135},{"t":4.98,"s":5,"v":128},
      {"t":5.0,"s":5,"v":165},{"t":5.02,"s":5,"v":230},{"t":5.05,"s":5,"v":255},{"t":5.09,"s":5,"v":274},{"t":5.13,"s":5,"v":226},{"t":5.18,"s":5,"v":260},{"t":5.23,"s":5,"v":250},{"t":5.28,"s":5,"v":300},{"t":5.33,"s":5,"v":245},{"t":5.37,"s":5,"v":270},{"t":5.41,"s":5,"v":291},{"t":5.46,"s":5,"v":250},{"t":5.51,"s":5,"v":235},{"t":5.56,"s":5,"v":270},{"t":5.6,"s":5,"v":255},{"t":5.64,"s":5,"v":285},{"t":5.68,"s":5,"v":250},{"t":5.72,"s":5,"v":270},{"t":5.76,"s":5,"v":233},{"t":5.8,"s":5,"v":280},{"t":5.86,"s":5,"v":235},{"t":5.9,"s":5,"v":265},{"t":5.95,"s":5,"v":250},{"t":6.0,"s":5,"v":275},{"t":6.03,"s":5,"v":245},{"t":6.07,"s":5,"v":289},{"t":6.12,"s":5,"v":255},{"t":6.16,"s":5,"v":231},{"t":6.18,"s":5,"v":289},{"t":6.23,"s":5,"v":250},{"t":6.28,"s":5,"v":270},{"t":6.33,"s":5,"v":245},{"t":6.38,"s":5,"v":265},{"t":6.45,"s":5,"v":270},{"t":6.49,"s":5,"v":228},{"t":6.53,"s":5,"v":260},{"t":6.56,"s":5,"v":278},{"t":6.6,"s":5,"v":230},{"t":6.65,"s":5,"v":265},{"t":6.7,"s":5,"v":250},{"t":6.74,"s":5,"v":229},{"t":6.78,"s":5,"v":283},{"t":6.83,"s":5,"v":250},{"t":6.88,"s":5,"v":270},{"t":6.93,"s":5,"v":245},{"t":6.97,"s":5,"v":265},{"t":7.01,"s":5,"v":224},{"t":7.06,"s":5,"v":278},{"t":7.1,"s":5,"v":250},{"t":7.15,"s":5,"v":270},{"t":7.2,"s":5,"v":245},{"t":7.27,"s":5,"v":227},{"t":7.32,"s":5,"v":265},{"t":7.37,"s":5,"v":289},{"t":7.42,"s":5,"v":250},{"t":7.48,"s":5,"v":273},{"t":7.5,"s":5,"v":240},{"t":7.53,"s":5,"v":197},{"t":7.57,"s":5,"v":170},
      {"t":7.65,"s":5,"v":162},{"t":7.73,"s":5,"v":153},{"t":7.79,"s":5,"v":121},{"t":7.84,"s":5,"v":148},{"t":7.89,"s":5,"v":148},{"t":7.96,"s":5,"v":124},{"t":8.02,"s":5,"v":145},{"t":8.08,"s":5,"v":140},{"t":8.12,"s":5,"v":154},{"t":8.14,"s":5,"v":126},{"t":8.2,"s":5,"v":148},{"t":8.25,"s":5,"v":140},{"t":8.3,"s":5,"v":159},{"t":8.38,"s":5,"v":132},{"t":8.45,"s":5,"v":150},{"t":8.52,"s":5,"v":157},{"t":8.58,"s":5,"v":140},{"t":8.64,"s":5,"v":150},{"t":8.7,"s":5,"v":128},{"t":8.76,"s":5,"v":145},{"t":8.83,"s":5,"v":149},{"t":8.9,"s":5,"v":140},{"t":8.99,"s":5,"v":129},{"t":9.05,"s":5,"v":145},{"t":9.11,"s":5,"v":121},{"t":9.17,"s":5,"v":145},{"t":9.22,"s":5,"v":155},{"t":9.29,"s":5,"v":124},{"t":9.35,"s":5,"v":145},{"t":9.42,"s":5,"v":138},{"t":9.47,"s":5,"v":150},{"t":9.52,"s":5,"v":130},{"t":9.58,"s":5,"v":151},{"t":9.65,"s":5,"v":140},{"t":9.72,"s":5,"v":133},{"t":9.78,"s":5,"v":148},{"t":9.84,"s":5,"v":157},{"t":9.85,"s":5,"v":127},{"t":9.9,"s":5,"v":150},{"t":9.93,"s":5,"v":158},{"t":9.97,"s":5,"v":165},
      {"t":10.0,"s":5,"v":210},{"t":10.02,"s":5,"v":250},{"t":10.06,"s":5,"v":265},{"t":10.1,"s":5,"v":285},{"t":10.14,"s":5,"v":255},{"t":10.18,"s":5,"v":275},{"t":10.22,"s":5,"v":250},{"t":10.26,"s":5,"v":243},{"t":10.3,"s":5,"v":275},{"t":10.33,"s":5,"v":286},{"t":10.38,"s":5,"v":239},{"t":10.41,"s":5,"v":286},{"t":10.47,"s":5,"v":242},{"t":10.51,"s":5,"v":297},{"t":10.56,"s":5,"v":260},{"t":10.61,"s":5,"v":239},{"t":10.67,"s":5,"v":294},{"t":10.71,"s":5,"v":255},{"t":10.76,"s":5,"v":298},{"t":10.8,"s":5,"v":260},{"t":10.84,"s":5,"v":270},{"t":10.88,"s":5,"v":242},{"t":10.9,"s":5,"v":293},{"t":10.95,"s":5,"v":255},{"t":11.0,"s":5,"v":275},{"t":11.05,"s":5,"v":250},{"t":11.09,"s":5,"v":236},{"t":11.14,"s":5,"v":312},{"t":11.18,"s":5,"v":262},{"t":11.21,"s":5,"v":240},{"t":11.23,"s":5,"v":291},{"t":11.28,"s":5,"v":255},{"t":11.33,"s":5,"v":235},{"t":11.38,"s":5,"v":282},{"t":11.42,"s":5,"v":255},{"t":11.46,"s":5,"v":289},{"t":11.5,"s":5,"v":250},{"t":11.55,"s":5,"v":270},{"t":11.59,"s":5,"v":282},{"t":11.64,"s":5,"v":255},{"t":11.7,"s":5,"v":238},{"t":11.74,"s":5,"v":280},{"t":11.78,"s":5,"v":260},{"t":11.82,"s":5,"v":290},{"t":11.86,"s":5,"v":255},{"t":11.9,"s":5,"v":293},{"t":11.96,"s":5,"v":231},{"t":12.0,"s":5,"v":285},{"t":12.05,"s":5,"v":250},{"t":12.11,"s":5,"v":293},{"t":12.16,"s":5,"v":255},{"t":12.22,"s":5,"v":243},{"t":12.24,"s":5,"v":283},{"t":12.29,"s":5,"v":260},{"t":12.33,"s":5,"v":297},{"t":12.37,"s":5,"v":268},{"t":12.42,"s":5,"v":250},{"t":12.46,"s":5,"v":265},{"t":12.49,"s":5,"v":274},{"t":12.51,"s":5,"v":154},{"t":12.56,"s":5,"v":158},
      {"t":12.61,"s":5,"v":164},{"t":12.65,"s":5,"v":145},{"t":12.69,"s":5,"v":159},{"t":12.72,"s":5,"v":132},{"t":12.78,"s":5,"v":145},{"t":12.84,"s":5,"v":140},{"t":12.89,"s":5,"v":131},{"t":12.94,"s":5,"v":145},{"t":12.99,"s":5,"v":158},{"t":13.03,"s":5,"v":140},{"t":13.07,"s":5,"v":155},{"t":13.11,"s":5,"v":135},{"t":13.15,"s":5,"v":148},{"t":13.19,"s":5,"v":154},{"t":13.24,"s":5,"v":140},{"t":13.28,"s":5,"v":132},{"t":13.33,"s":5,"v":151},{"t":13.37,"s":5,"v":135},{"t":13.41,"s":5,"v":118},{"t":13.46,"s":5,"v":140},{"t":13.51,"s":5,"v":149},{"t":13.55,"s":5,"v":135},{"t":13.6,"s":5,"v":126},{"t":13.64,"s":5,"v":145},{"t":13.68,"s":5,"v":157},{"t":13.74,"s":5,"v":127},{"t":13.78,"s":5,"v":155},{"t":13.84,"s":5,"v":140},{"t":13.89,"s":5,"v":153},{"t":13.93,"s":5,"v":137},{"t":13.98,"s":5,"v":155},{"t":14.0,"s":5,"v":140}
    ]
  },
  "layer": [
    {
      "mark": {"type": "line", "strokeWidth": 16, "strokeCap": "round", "strokeJoin": "round", "clip": false},
      "encoding": {
        "x": {
          "field": "t", "type": "quantitative",
          "scale": {"domain": [0, 14], "nice": false, "zero": false},
          "axis": {
            "orient": "bottom",
            "values": [0, 2, 4, 6, 8, 10, 12, 14],
            "grid": true,
            "title": "Time(s)",
            "titleY": 208,
            "titleBaseline": "alphabetic",
            "labelBaseline": "alphabetic",
            "labelPadding": 127,
            "labelFlush": false,
            "labelOverlap": false
          }
        },
        "y": {
          "field": "v", "type": "quantitative",
          "scale": {"domain": [0, 700], "nice": false, "zero": false},
          "axis": {
            "orient": "left",
            "values": [0, 100, 200, 300, 400, 500, 600, 700],
            "grid": true,
            "title": "Control signal (mV)",
            "titleX": -187,
            "titleY": 906,
            "titleAngle": -90,
            "titleBaseline": "alphabetic",
            "titleAlign": "center",
            "labelPadding": 59,
            "labelBaseline": "middle",
            "labelOverlap": false
          }
        },
        "color": {
          "field": "s", "type": "nominal",
          "scale": {"domain": [2, 3, 4, 5], "range": ["#ff0000", "#0000ff", "#00ff00", "#000000"]},
          "legend": {
            "title": null,
            "orient": "none",
            "legendX": 1686,
            "legendY": 127,
            "labelExpr": "'loading ' + datum.label",
            "labelLimit": 0,
            "symbolType": "M-8,0H8",
            "symbolSize": 708,
            "symbolStrokeWidth": 14,
            "symbolOffset": 76,
            "labelOffset": 89,
            "labelFontSize": 61,
            "labelFont": "Liberation Sans",
            "labelColor": "#000000",
            "rowPadding": 22,
            "padding": 22,
            "strokeColor": "#262626",
            "fillColor": "#ffffff"
          }
        }
      }
    },
    {
      "mark": {"type": "point", "opacity": 0},
      "encoding": {
        "x": {
          "field": "t", "type": "quantitative",
          "axis": {"orient": "top", "values": [0, 2, 4, 6, 8, 10, 12, 14], "grid": false, "labels": false, "title": null}
        },
        "y": {
          "field": "v", "type": "quantitative",
          "axis": {"orient": "right", "values": [0, 100, 200, 300, 400, 500, 600, 700], "grid": false, "labels": false, "title": null}
        }
      }
    }
  ],
  "resolve": {"axis": {"x": "independent", "y": "independent"}},
  "config": {
    "font": "Liberation Sans",
    "view": {"stroke": null},
    "legend": {"strokeWidth": 4},
    "axis": {
      "domainColor": "#262626",
      "domainWidth": 4,
      "tickColor": "#262626",
      "tickWidth": 4,
      "tickSize": -25,
      "gridColor": "#dcdcdc",
      "gridWidth": 4,
      "gridOpacity": 1,
      "labelFont": "Liberation Sans",
      "labelFontSize": 70,
      "labelColor": "#262626",
      "titleFont": "Liberation Sans",
      "titleFontSize": 78,
      "titleFontWeight": "normal",
      "titleColor": "#262626"
    }
  }
}
